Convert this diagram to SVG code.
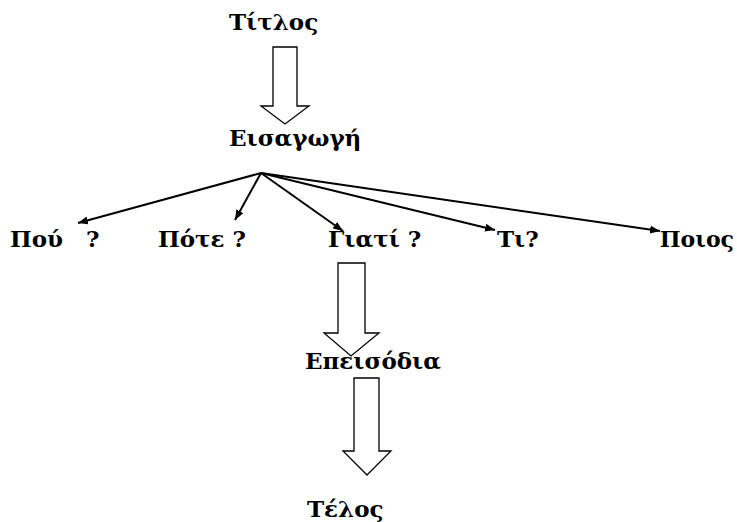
<svg xmlns="http://www.w3.org/2000/svg" width="737" height="522" viewBox="0 0 737 522">
<defs>
<marker id="ah" markerWidth="10" markerHeight="8" refX="10" refY="4" orient="auto" markerUnits="userSpaceOnUse">
<path d="M0,0 L10,4 L0,8 Z" fill="#000"/>
</marker>
<style>
text{font-family:"DejaVu Serif","Liberation Serif",serif;font-weight:bold;font-size:23px;fill:#000}
.blk{fill:#fff;stroke:#000;stroke-width:1.3}
.ln{stroke:#000;stroke-width:2;fill:none;marker-end:url(#ah)}
</style>
</defs>
<rect width="737" height="522" fill="#fff"/>
<g id="titlos"><text x="229" y="30">Τίτλος</text></g>
<g id="eisagogi"><text x="229" y="146">Εισαγωγή</text></g>
<g id="pou"><text x="10" y="247">Πού</text><text x="86" y="247">?</text></g>
<g id="pote"><text x="158" y="247">Πότε ?</text></g>
<g id="giati"><text x="328" y="247">Γιατί ?</text></g>
<g id="ti"><text x="497" y="247">Τι?</text></g>
<g id="poios"><text x="734" y="247" text-anchor="end" style="font-size:22px">Ποιος</text></g>
<g id="epeisodia"><text x="305" y="369">Επεισόδια</text></g>
<g id="telos"><text x="307" y="517">Τέλος</text></g>
<g id="connectors">
<path class="blk" d="M273,47 H297 V106 H309 L285,124 L261,106 H273 Z"/>
<path class="blk" d="M338,263 H365 V333 H379 L351,356 L324,333 H338 Z"/>
<path class="blk" d="M354,378 H379 V451 H391 L367,475 L343,451 H354 Z"/>
<line class="ln" x1="261" y1="173" x2="78" y2="223"/>
<line class="ln" x1="261" y1="173" x2="235" y2="220"/>
<line class="ln" x1="261" y1="173" x2="343" y2="231"/>
<line class="ln" x1="261" y1="173" x2="495" y2="230"/>
<line class="ln" x1="261" y1="173" x2="660" y2="231"/>
</g>
</svg>
